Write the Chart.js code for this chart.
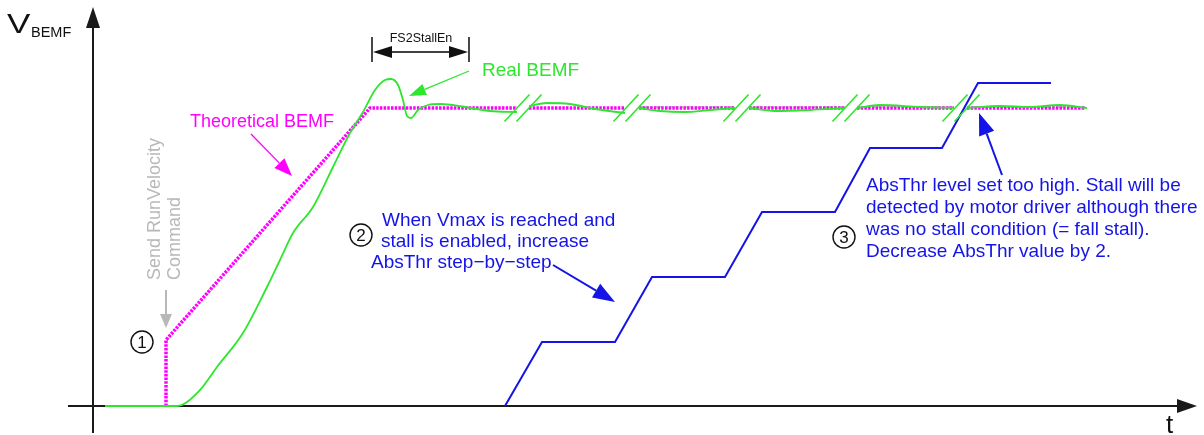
<!DOCTYPE html>
<html>
<head>
<meta charset="utf-8">
<script src="https://cdn.jsdelivr.net/npm/chart.js@4/dist/chart.umd.min.js"></script>
<style>
  html, body { margin: 0; padding: 0; background: #fff; }
  #wrap { width: 1204px; height: 435px; }
</style>
</head>
<body>
<div id="wrap"><canvas id="bemf" width="1204" height="435"></canvas></div>
<script>
// t / v in drawing units, origin where the two axes cross. null = axis break
const theoreticalBemf = [[73,0],[73,66],[277,298],[424,298],[430,null],[436,298],[532,298],[539,null],
  [546,298],[642,298],[649,null],[656,298],[752,298],[758,null],[764,298],[861,298],[868,null],[874,298],[992,298]];

const realBemf = [[12,0],[84,0],[107,16],[124,39],[150,73],[174,119],[187,146],[200,173],[220,199],[240,239],
  [257,273],[270,294],[282,316],[292,326],[298,327],[305,321],[310,306],[314,290],[318,288],[325,296],[335,301],
  [347,302],[372,299],[397,295],[424,294],[430,null],
  [436,300],[454,303],[477,302],[502,297],[532,293],[539,null],
  [546,298],[567,295],[592,294],[617,296],[642,298],[649,null],
  [656,298],[682,295],[717,296],[752,298],[758,null],
  [764,298],[787,301],[827,299],[861,298],[868,null],
  [874,298],[907,300],[937,299],[967,301],[994,298]];

const thresholdTrace = [[547,299],[642,299],[649,null],[656,299],[752,299],[758,null],[764,299],[861,299],[868,null],[874,299],[992,299]];

const absThrSteps = [[412,0],[449,64],[522,64],[559,129],[632,129],[669,194],[742,194],[777,258],[849,258],[885,323],[958,323]];

const breakAt = [430, 539, 649, 758, 868];  // centre of each "//" break on the time axis
const plateau = 298;

const tAxis = [[-25,0],[1100,0]];
const vAxis = [[0,-27],[0,392]];

const toXY = arr => arr.map(p => ({x: p[0], y: p[1]}));

// two slashes per break, crossing the plateau either side of the centre
const slashSets = [];
breakAt.forEach(c => {
  [-6, 6].forEach(d => {
    slashSets.push([[c + d - 12.5, plateau - 13.5], [c + d + 12.5, plateau + 13.5]]);
  });
});

const FONT = "'Liberation Sans', Arial, Helvetica, sans-serif";
const BLUE = '#1414e6';
const GREEN = '#2ee62e';
const MAGENTA = '#ff00ff';

const lineDs = (data, color, width, extra) => Object.assign({
  data: toXY(data), borderColor: color, borderWidth: width, pointRadius: 0, fill: false, spanGaps: false
}, extra || {});

const datasets = [];
slashSets.forEach(s => datasets.push(lineDs(s, GREEN, 1.6)));
datasets.push(lineDs(realBemf, GREEN, 1.8, {cubicInterpolationMode: 'monotone'}));
datasets.push(lineDs(thresholdTrace, 'rgba(120,120,120,0.8)', 1, {borderDash: [3, 2]}));
datasets.push(lineDs(theoreticalBemf, MAGENTA, 3.5, {borderDash: [2.5, 1.2]}));
datasets.push(lineDs(absThrSteps, BLUE, 2));
datasets.push(lineDs(tAxis, '#1a1a1a', 2));
datasets.push(lineDs(vAxis, '#1a1a1a', 2));

function arrow(ctx, a, b, color, width, len, half, shaft) {
  const ang = Math.atan2(b[1] - a[1], b[0] - a[0]);
  const bx = b[0] - Math.cos(ang) * len, by = b[1] - Math.sin(ang) * len;
  ctx.save();
  ctx.strokeStyle = color; ctx.fillStyle = color; ctx.lineWidth = width;
  if (shaft !== false) {
    ctx.beginPath(); ctx.moveTo(a[0], a[1]); ctx.lineTo(bx, by); ctx.stroke();
  }
  ctx.beginPath();
  ctx.moveTo(b[0], b[1]);
  ctx.lineTo(bx + Math.sin(ang) * half, by - Math.cos(ang) * half);
  ctx.lineTo(bx - Math.sin(ang) * half, by + Math.cos(ang) * half);
  ctx.closePath(); ctx.fill();
  ctx.restore();
}

const notes = {
  id: 'notes',
  afterDatasetsDraw(chart) {
    const {ctx, scales: {x, y}} = chart;
    const P = p => [x.getPixelForValue(p[0]), y.getPixelForValue(p[1])];
    const text = (str, p, size, color, align) => {
      const q = P(p);
      ctx.font = size + 'px ' + FONT; ctx.fillStyle = color;
      ctx.textAlign = align || 'left'; ctx.textBaseline = 'alphabetic';
      ctx.fillText(str, q[0], q[1]);
    };
    ctx.save();

    // axis heads and labels
    arrow(ctx, P([1080,0]), P([1104,0]), '#1a1a1a', 2, 20, 7, false);
    arrow(ctx, P([0,380]), P([0,399]), '#1a1a1a', 2, 21, 7, false);
    const vq = P([-86,373]);
    ctx.save();
    ctx.translate(vq[0], vq[1]); ctx.scale(1.25, 1);
    ctx.font = '28px ' + FONT; ctx.fillStyle = '#111'; ctx.textAlign = 'left';
    ctx.fillText('V', 0, 0);
    ctx.restore();
    text('BEMF', [-62,369], 14.5, '#111');
    text('t', [1073,-27], 26, '#111');

    // FS2StallEn span
    ctx.strokeStyle = '#1a1a1a'; ctx.lineWidth = 1.6;
    [279, 376].forEach(t => {
      const a = P([t,369]), b = P([t,344]);
      ctx.beginPath(); ctx.moveTo(a[0], a[1]); ctx.lineTo(b[0], b[1]); ctx.stroke();
    });
    arrow(ctx, P([327,354]), P([280,354]), '#111', 1.6, 19, 6);
    arrow(ctx, P([327,354]), P([375,354]), '#111', 1.6, 19, 6);
    text('FS2StallEn', [328,364], 12.5, '#111', 'center');

    // curve labels
    text('Real BEMF', [389,330], 19, GREEN);
    arrow(ctx, P([376,335]), P([316,310]), GREEN, 1.3, 17, 6);
    text('Theoretical BEMF', [97,279], 18, MAGENTA);
    arrow(ctx, P([158,272]), P([199,230]), MAGENTA, 1.3, 18, 7);

    // command marker
    const c = P([67,126]);
    ctx.save();
    ctx.translate(c[0], c[1]); ctx.rotate(-Math.PI / 2);
    ctx.font = '18px ' + FONT; ctx.fillStyle = '#b8b8b8'; ctx.textAlign = 'left';
    ctx.fillText('Send RunVelocity', 0, 0);
    ctx.fillText('Command', 0, 20);
    ctx.restore();
    arrow(ctx, P([73,116]), P([73,78]), '#b8b8b8', 2, 14, 6);

    // numbered steps
    [[1,[49,64]],[2,[268,171]],[3,[751,169]]].forEach(([n, p]) => {
      const q = P(p);
      ctx.beginPath(); ctx.arc(q[0], q[1], 11, 0, Math.PI * 2);
      ctx.strokeStyle = '#111'; ctx.lineWidth = 1.4; ctx.stroke();
      ctx.font = '17px ' + FONT; ctx.fillStyle = '#111';
      ctx.textAlign = 'center'; ctx.textBaseline = 'middle';
      ctx.fillText(String(n), q[0], q[1] + 1);
    });

    text('When Vmax is reached and', [289,180], 19, BLUE);
    text('stall is enabled, increase', [288,159], 19, BLUE);
    text('AbsThr step\u2212by\u2212step', [278,138], 19, BLUE);
    arrow(ctx, P([460,141]), P([522,104]), BLUE, 2, 22, 8);

    text('AbsThr level set too high. Stall will be', [773,215], 19, BLUE);
    text('detected by motor driver although there', [773,193], 19, BLUE);
    text('was no stall condition (= fall stall).', [773,171], 19, BLUE);
    text('Decrease AbsThr value by 2.', [773,149], 19, BLUE);
    arrow(ctx, P([909,231]), P([886,293]), BLUE, 2, 22, 8);

    ctx.restore();
  }
};

new Chart(document.getElementById('bemf'), {
  type: 'line',
  data: {datasets},
  options: {
    responsive: false,
    animation: false,
    layout: {padding: 0},
    plugins: {legend: {display: false}, tooltip: {enabled: false}},
    scales: {
      x: {type: 'linear', min: -93, max: 1111, display: false},
      y: {type: 'linear', min: -29, max: 406, display: false}
    }
  },
  plugins: [notes]
});
</script>
</body>
</html>
